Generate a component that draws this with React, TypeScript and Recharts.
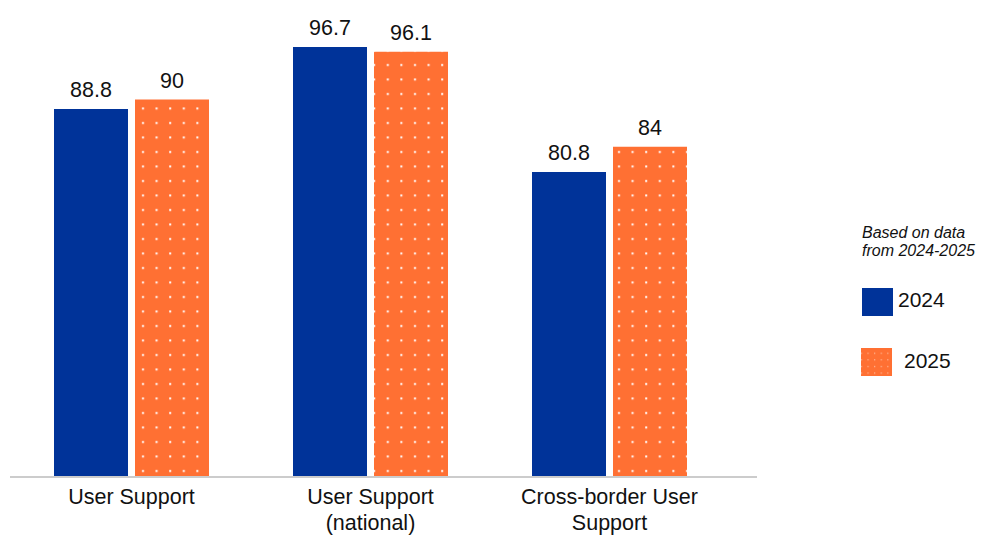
import React from 'react';
import { BarChart, Bar, XAxis, YAxis, LabelList } from 'recharts';

const categories = ['User Support', 'User Support (national)', 'Cross-border User Support'];
const values2024 = [88.8, 96.7, 80.8];
const values2025 = [90, 96.1, 84];
const seriesNames = ['2024', '2025'];
const legendNote = ['Based on data', 'from 2024-2025'];

const BLUE = '#003399';
const ORANGE = '#ff7033';
const FONT = '"Liberation Sans", Arial, sans-serif';

const data = categories.map((name, i) => ({ name, y2024: values2024[i], y2025: values2025[i] }));

// greedy word wrap, max ~18 chars per line
const wrap = (s: string, max = 18) => {
    const lines: string[] = [];
    let cur = '';
    s.split(' ').forEach((w) => {
        const next = cur ? cur + ' ' + w : w;
        if (next.length > max && cur) {
            lines.push(cur);
            cur = w;
        } else {
            cur = next;
        }
    });
    if (cur) lines.push(cur);
    return lines;
};

const CategoryTick = (props: any) => {
    const { x, y, payload } = props;
    const lines = wrap(String(payload.value));
    return (
        <text x={x} y={y} textAnchor="middle" fontSize={21.5} fill="#111" fontFamily={FONT}>
            {lines.map((l, i) => (
                <tspan key={i} x={x} y={y + 19 + i * 26}>{l}</tspan>
            ))}
        </text>
    );
};

const App = () => {
    return (
        <div style={{ position: 'relative', width: 981, height: 537, fontFamily: FONT }}>
            <style>{'body { margin: 0; }'}</style>
            <BarChart
                width={760}
                height={537}
                data={data}
                margin={{ top: 21, right: 3, left: 10, bottom: 0 }}
                barSize={74}
                barGap={7}
            >
                <defs>
                    <pattern id="dots" width={13.6} height={14.5} patternUnits="userSpaceOnUse">
                        <rect width={13.6} height={14.5} fill={ORANGE} />
                        <rect x={6} y={6} width={2} height={2} fill="#ffffff" />
                    </pattern>
                </defs>
                <XAxis
                    dataKey="name"
                    height={60}
                    padding={{ left: 2, right: 28 }}
                    tickLine={false}
                    axisLine={{ stroke: '#cccccc', strokeWidth: 2 }}
                    tick={<CategoryTick />}
                    interval={0}
                />
                <YAxis hide domain={[42, 100]} allowDataOverflow />
                <Bar dataKey="y2024" fill={BLUE} isAnimationActive={false}>
                    <LabelList dataKey="y2024" position="top" offset={12} fill="#111" fontSize={21.5} fontFamily={FONT} />
                </Bar>
                <Bar dataKey="y2025" fill="url(#dots)" isAnimationActive={false}>
                    <LabelList dataKey="y2025" position="top" offset={12} fill="#111" fontSize={21.5} fontFamily={FONT} />
                </Bar>
            </BarChart>

            <svg style={{ position: 'absolute', left: 0, top: 0 }} width={981} height={537}>
                <defs>
                    <pattern id="dotsLegend" width={6.6} height={6.6} patternUnits="userSpaceOnUse">
                        <rect width={6.6} height={6.6} fill={ORANGE} />
                        <rect x={3} y={3} width={1} height={1} fill="#ffd9c4" />
                    </pattern>
                </defs>
                <text x={862} y={238} fontSize={16} fontStyle="italic" fill="#111" fontFamily={FONT}>{legendNote[0]}</text>
                <text x={862} y={256} fontSize={16} fontStyle="italic" fill="#111" fontFamily={FONT}>{legendNote[1]}</text>
                <rect x={862} y={288} width={31} height={28} fill={BLUE} />
                <text x={898} y={307} fontSize={21} fill="#111" fontFamily={FONT}>{seriesNames[0]}</text>
                <rect x={861} y={348} width={31} height={28} fill="url(#dotsLegend)" />
                <text x={904} y={368} fontSize={21} fill="#111" fontFamily={FONT}>{seriesNames[1]}</text>
            </svg>
        </div>
    );
};

export default App;
